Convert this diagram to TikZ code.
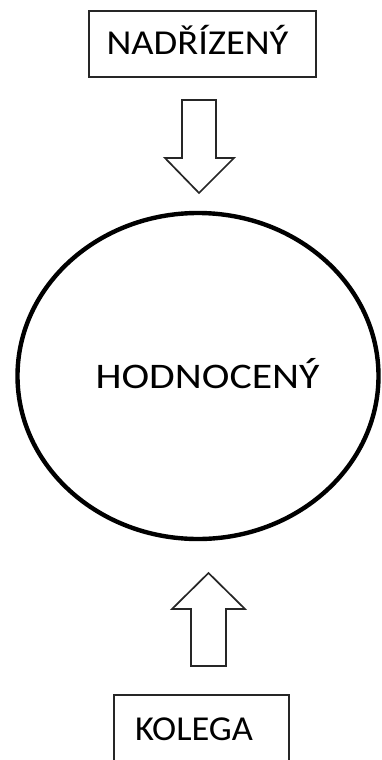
\documentclass[tikz,border=0pt]{standalone}
\usepackage{fontspec}
\setmainfont{Carlito}
\begin{document}
\begin{tikzpicture}[x=1pt,y=-1pt,
  lbl/.style={inner sep=0pt,anchor=base,font=\fontsize{35}{42}\selectfont,text=black},
  boxline/.style={draw=black!85,line width=2pt},
  blockarrow/.style={draw=black!85,line width=1.7pt,fill=white,line join=miter}]
\useasboundingbox (0,0) rectangle (381,760);
% boxes
\draw[boxline] (89,11) rectangle (316,77);
\node[lbl] (nad) at (197.5,55) {\scalebox{1.1}[1]{NADŘÍZENÝ}};
\draw[boxline] (114,695) rectangle (289,775);
\node[lbl] (kol) at (194,740) {\scalebox{1.04}[1]{KOLEGA}};
% ellipse
\draw[line width=4.4pt,black] (198,376) ellipse [x radius=180.5, y radius=163];
\node[lbl,font=\fontsize{36}{42}\selectfont] (hod) at (207.5,388) {\scalebox{1.16}[1]{HODNOCENÝ}};
% block arrows
\draw[blockarrow] (182,100) -- (216,100) -- (216,158) -- (234,158) -- (199,193) -- (165,158) -- (182,158) -- cycle;
\draw[blockarrow] (191,666) -- (226,666) -- (226,609) -- (245,609) -- (208.5,573) -- (172,609) -- (191,609) -- cycle;
\end{tikzpicture}
\end{document}
